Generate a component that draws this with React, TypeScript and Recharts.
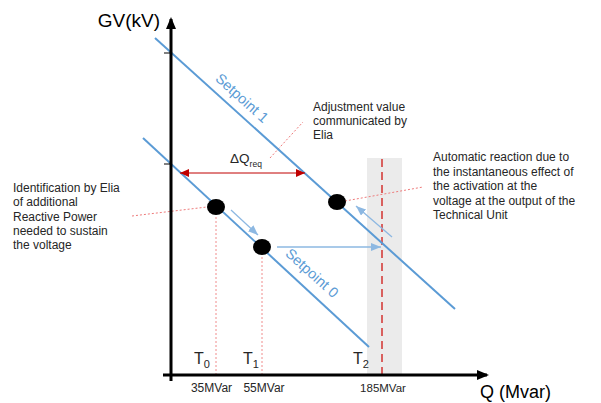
import React from 'react';
import {
  ComposedChart,
  XAxis,
  YAxis,
  Line,
  Scatter,
  ReferenceLine,
  ReferenceArea,
} from 'recharts';

// Schematic coordinates: q = reactive power position along the Q axis, gv = voltage position along the GV axis
const setpoint1 = [
  { q: -16, gv: 337 },
  { q: 284, gv: 66 },
];
const setpoint0 = [
  { q: -28, gv: 237 },
  { q: 198, gv: 28 },
];
const operatingPoints = [
  { q: 45, gv: 168 },
  { q: 91, gv: 128 },
  { q: 166, gv: 173 },
];
const tickQ = [45, 91, 211];
const tickLabels = ['35MVar', '55MVar', '185MVar'];
const tickLabelQ = [40.5, 93, 212];
const timeLabels = ['0', '1', '2'];
const timeLabelQ = [31, 80, 190];
const gvTicks = [322, 211];
const deltaQ = [
  { q: 9, gv: 202 },
  { q: 134, gv: 202 },
];
const moveArrows = [
  [{ q: 60, gv: 165 }, { q: 87, gv: 140 }],
  [{ q: 106, gv: 128 }, { q: 210, gv: 128 }],
  [{ q: 221, gv: 138 }, { q: 185, gv: 169 }],
];
const leaders = [
  [{ q: -39, gv: 159 }, { q: 36, gv: 168 }],
  [{ q: 99, gv: 217 }, { q: 132, gv: 253 }],
  [{ q: 174, gv: 174 }, { q: 252, gv: 188 }],
];
const identificationText = [
  'Identification by Elia',
  'of additional',
  'Reactive Power',
  'needed to sustain',
  'the voltage',
];
const adjustmentText = ['Adjustment value', 'communicated by', 'Elia'];
const automaticText = [
  'Automatic reaction due to',
  'the instantaneous effect of',
  'the activation at the',
  'voltage at the output of the',
  'Technical Unit',
];

const BLUE = '#5B9BD5';
const LIGHT_BLUE = '#8DB8E2';
const DARK_RED = '#C00000';
const FONT = '"Liberation Sans", Arial, sans-serif';

const W = 601;
const H = 403;

const textShape = (
  lines: string[],
  opts: { size: number; lh?: number; anchor?: string; fill?: string; angle?: number }
) =>
  (p: any) => {
    const { cx, cy } = p;
    const lh = opts.lh ?? opts.size * 1.25;
    return (
      <text
        x={cx}
        y={cy}
        fontFamily={FONT}
        fontSize={opts.size}
        fill={opts.fill ?? '#262626'}
        textAnchor={opts.anchor ?? 'start'}
        transform={opts.angle ? `rotate(${opts.angle} ${cx} ${cy})` : undefined}
        dominantBaseline={opts.angle ? 'central' : undefined}
      >
        {lines.map((l, i) => (
          <tspan key={i} x={cx} dy={i === 0 ? 0 : lh}>
            {l}
          </tspan>
        ))}
      </text>
    );
  };

const subShape = (main: string, sub: string, size: number, subSize: number, anchor: string) =>
  (p: any) => {
    const { cx, cy } = p;
    return (
      <text x={cx} y={cy} fontFamily={FONT} fontSize={size} fill="#262626" textAnchor={anchor}>
        {main}
        <tspan fontSize={subSize} dy={4}>
          {sub}
        </tspan>
      </text>
    );
  };

export default function App() {
  return (
    <div style={{ position: 'absolute', left: 0, top: 0, width: W, height: H, background: '#fff' }}>
      <svg width={0} height={0} style={{ position: 'absolute' }}>
        <defs>
          <marker id="arBlack" markerUnits="userSpaceOnUse" markerWidth={12} markerHeight={10} refX={10} refY={5} orient="auto">
            <path d="M0,0 L12,5 L0,10 z" fill="#000" />
          </marker>
          <marker id="arRed" markerUnits="userSpaceOnUse" markerWidth={9} markerHeight={8} refX={9} refY={4} orient="auto-start-reverse">
            <path d="M0,0 L9,4 L0,8 z" fill={DARK_RED} />
          </marker>
          <marker id="arBlue" markerUnits="userSpaceOnUse" markerWidth={10} markerHeight={8} refX={10} refY={4} orient="auto">
            <path d="M0,0 L10,4 L0,8 z" fill={LIGHT_BLUE} />
          </marker>
        </defs>
      </svg>
      <ComposedChart width={W} height={H} margin={{ top: 0, right: 0, bottom: 0, left: 0 }}>
        <XAxis type="number" dataKey="q" domain={[-171, 430]} hide allowDataOverflow />
        <YAxis type="number" dataKey="gv" domain={[-28, 375]} hide allowDataOverflow />

        <ReferenceArea x1={196} x2={231} y1={0} y2={217} fill="#EBEBEB" fillOpacity={1} stroke="none" ifOverflow="visible" />

        {/* dotted projections */}
        <ReferenceLine segment={[{ x: tickQ[0], y: 0 }, { x: tickQ[0], y: operatingPoints[0].gv - 8 }]} stroke="#F08C8C" strokeDasharray="2 2" strokeWidth={1} ifOverflow="visible" />
        <ReferenceLine segment={[{ x: tickQ[1], y: 0 }, { x: tickQ[1], y: operatingPoints[1].gv - 8 }]} stroke="#F08C8C" strokeDasharray="2 2" strokeWidth={1} ifOverflow="visible" />
        <ReferenceLine segment={[{ x: tickQ[2], y: 0 }, { x: tickQ[2], y: 220 }]} stroke="#D9605E" strokeDasharray="8 5" strokeWidth={2} ifOverflow="visible" />

        {leaders.map((s, i) => (
          <ReferenceLine key={'ld' + i} segment={[{ x: s[0].q, y: s[0].gv }, { x: s[1].q, y: s[1].gv }]} stroke="#EE7B7B" strokeDasharray="2 2" strokeWidth={1} ifOverflow="visible" />
        ))}

        <Line data={setpoint1} dataKey="gv" stroke={BLUE} strokeWidth={2} dot={false} isAnimationActive={false} />
        <Line data={setpoint0} dataKey="gv" stroke={BLUE} strokeWidth={2} dot={false} isAnimationActive={false} />

        {moveArrows.map((s, i) => (
          <ReferenceLine key={'mv' + i} segment={[{ x: s[0].q, y: s[0].gv }, { x: s[1].q, y: s[1].gv }]} stroke={LIGHT_BLUE} strokeWidth={1.3} markerEnd="url(#arBlue)" ifOverflow="visible" />
        ))}

        <ReferenceLine segment={[{ x: deltaQ[0].q, y: deltaQ[0].gv }, { x: deltaQ[1].q, y: deltaQ[1].gv }]} stroke={DARK_RED} strokeWidth={1} markerStart="url(#arRed)" markerEnd="url(#arRed)" ifOverflow="visible" />

        {/* axes */}
        <ReferenceLine segment={[{ x: 0, y: -6 }, { x: 0, y: 356 }]} stroke="#000" strokeWidth={3} markerEnd="url(#arBlack)" ifOverflow="visible" />
        <ReferenceLine segment={[{ x: -8, y: 0 }, { x: 316, y: 0 }]} stroke="#000" strokeWidth={3} markerEnd="url(#arBlack)" ifOverflow="visible" />
        {gvTicks.map((t) => (
          <ReferenceLine key={'gt' + t} segment={[{ x: -7, y: t }, { x: 0, y: t }]} stroke="#000" strokeWidth={1} ifOverflow="visible" />
        ))}

        <Scatter data={operatingPoints} fill="#000" isAnimationActive={false} shape={(p: any) => <ellipse cx={p.cx} cy={p.cy} rx={9} ry={8} fill="#000" />} />

        {/* texts */}
        <Scatter data={[{ q: -11, gv: 348 }]} isAnimationActive={false} shape={textShape(['GV(kV)'], { size: 19, anchor: 'end', fill: '#000' })} />
        <Scatter data={[{ q: 309, gv: -23 }]} isAnimationActive={false} shape={textShape(['Q (Mvar)'], { size: 18, fill: '#000' })} />
        {tickLabels.map((l, i) => (
          <Scatter key={'tl' + i} data={[{ q: tickLabelQ[i], gv: -17 }]} isAnimationActive={false} shape={textShape([l], { size: i === 2 ? 11.5 : 12, anchor: 'middle' })} />
        ))}
        {timeLabels.map((l, i) => (
          <Scatter key={'tt' + i} data={[{ q: timeLabelQ[i], gv: 11 }]} isAnimationActive={false} shape={subShape('T', l, 16, 11, 'middle')} />
        ))}
        <Scatter data={[{ q: 75, gv: 212 }]} isAnimationActive={false} shape={subShape('ΔQ', 'req', 13.5, 8.5, 'middle')} />
        <Scatter data={[{ q: 71, gv: 277 }]} isAnimationActive={false} shape={textShape(['Setpoint 1'], { size: 14.5, anchor: 'middle', fill: BLUE, angle: 42 })} />
        <Scatter data={[{ q: 141, gv: 102 }]} isAnimationActive={false} shape={textShape(['Setpoint 0'], { size: 14.5, anchor: 'middle', fill: BLUE, angle: 42 })} />
        <Scatter data={[{ q: -158, gv: 183 }]} isAnimationActive={false} shape={textShape(identificationText, { size: 12, lh: 14.3 })} />
        <Scatter data={[{ q: 142, gv: 264 }]} isAnimationActive={false} shape={textShape(adjustmentText, { size: 12, lh: 14 })} />
        <Scatter data={[{ q: 262, gv: 214 }]} isAnimationActive={false} shape={textShape(automaticText, { size: 12, lh: 14.5 })} />
      </ComposedChart>
    </div>
  );
}
